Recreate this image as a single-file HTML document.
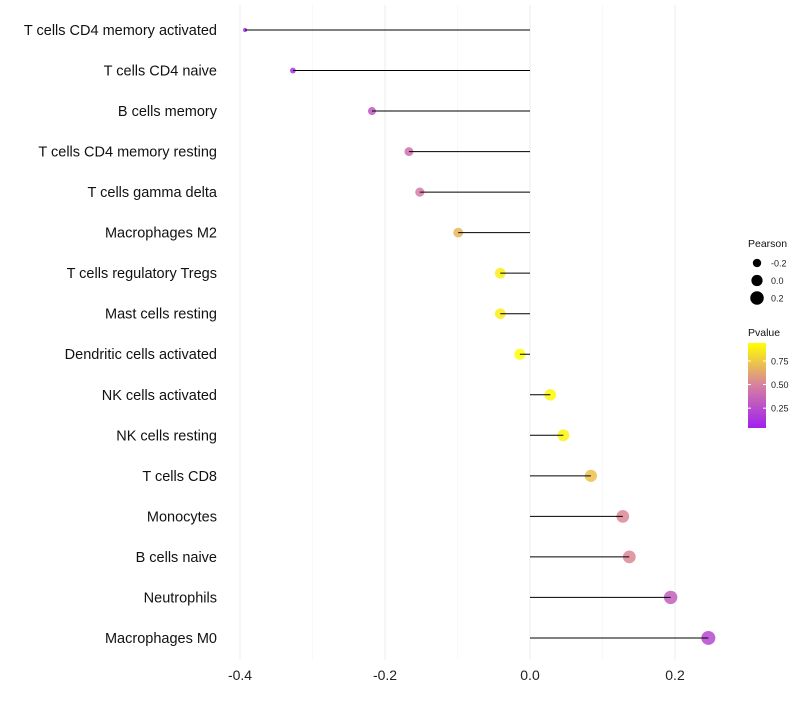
<!DOCTYPE html>
<html><head><meta charset="utf-8"><style>
body{margin:0;background:#fff;font-family:"Liberation Sans",sans-serif;}
</style></head><body>
<svg id="chart" width="800" height="700" xmlns="http://www.w3.org/2000/svg"></svg>
<script>
const categories=["T cells CD4 memory activated","T cells CD4 naive","B cells memory","T cells CD4 memory resting","T cells gamma delta","Macrophages M2","T cells regulatory  Tregs","Mast cells resting","Dendritic cells activated","NK cells activated","NK cells resting","T cells CD8","Monocytes","B cells naive","Neutrophils","Macrophages M0"];
const pearson=[-0.393,-0.327,-0.218,-0.167,-0.152,-0.099,-0.041,-0.041,-0.014,0.028,0.046,0.084,0.128,0.137,0.194,0.246];
const pvalue=[0.05,0.12,0.3,0.42,0.47,0.68,0.88,0.88,0.95,0.92,0.9,0.72,0.52,0.52,0.33,0.22];
const xTicks=[-0.4,-0.2,0.0,0.2];
const xMinor=[-0.3,-0.1,0.1];
const legendSizes=[-0.2,0.0,0.2];
const legendP=[0.25,0.5,0.75];

const svg=document.getElementById('chart');
const NS="http://www.w3.org/2000/svg";
const x=v=>530+v*725;
const y=i=>30+i*40.53;
const r=v=>Math.sqrt(4+70*Math.max(0,v+0.393));
function col(p){
  const a=[160,32,240],m=[214,128,160],b=[255,255,0];
  let t=(p-0.04)/0.9;t=Math.max(0,Math.min(1,t));
  let c0,c1,u;if(t<0.5){c0=a;c1=m;u=t*2}else{c0=m;c1=b;u=(t-0.5)*2}
  return 'rgb('+c0.map((c,k)=>Math.round(c+(c1[k]-c)*u)).join(',')+')';
}
function mk(tag,attrs,parent){const e=document.createElementNS(NS,tag);for(const k in attrs)e.setAttribute(k,attrs[k]);(parent||svg).appendChild(e);return e;}

xMinor.forEach(v=>{const l=mk('line',{x1:x(v),x2:x(v),y1:5,y2:660,stroke:'#f8f8f8','stroke-width':1});

});
xTicks.forEach(v=>{const l=mk('line',{x1:x(v),x2:x(v),y1:5,y2:660,stroke:'#f1f1f1','stroke-width':1.2});


const t=mk('text',{x:x(v),y:680,'text-anchor':'middle','font-size':14,fill:'#222'});t.textContent=v===0?'0.0':v.toFixed(1);

});

categories.forEach((c,i)=>{
  const t=mk('text',{x:217,y:y(i)+5,'text-anchor':'end','font-size':14.5,fill:'#111'});t.textContent=c;
  
  
  const p=mk('circle',{cx:x(pearson[i]),cy:y(i),r:r(pearson[i]),fill:col(pvalue[i]),'fill-opacity':0.85});
  
  
  const s=mk('line',{x1:x(0),x2:x(pearson[i]),y1:y(i),y2:y(i),stroke:'#000','stroke-width':1});
  
  
});

const lt=mk('text',{x:748,y:247,'font-size':10.5,fill:'#111'});lt.textContent='Pearson';


legendSizes.forEach((v,k)=>{const cy=263+k*17.5;
  const c=mk('circle',{cx:757,cy:cy,r:r(v),fill:'#000'});
  
  
  const t=mk('text',{x:771,y:cy+3.5,'font-size':9,fill:'#222'});t.textContent=v.toFixed(1);
  
  });
const pt=mk('text',{x:748,y:336,'font-size':10.5,fill:'#111'});pt.textContent='Pvalue';


const defs=mk('defs',{});const g=mk('linearGradient',{id:'pg',x1:0,y1:1,x2:0,y2:0},defs);
[0,0.5,1].forEach((o,k)=>mk('stop',{offset:o,'stop-color':['rgb(160,32,240)','rgb(214,128,160)','rgb(255,255,0)'][k]},g));
const bar=mk('rect',{x:748,y:343,width:18,height:85,fill:'url(#pg)'});


legendP.forEach(v=>{const cy=428-(v-0.04)/0.9*85;
  mk('line',{x1:748,x2:751,y1:cy,y2:cy,stroke:'#fff'});mk('line',{x1:763,x2:766,y1:cy,y2:cy,stroke:'#fff'});
  const t=mk('text',{x:771,y:cy+3.5,'font-size':9,fill:'#222'});t.textContent=v.toFixed(2);
  
  });
</script>
</body></html>
